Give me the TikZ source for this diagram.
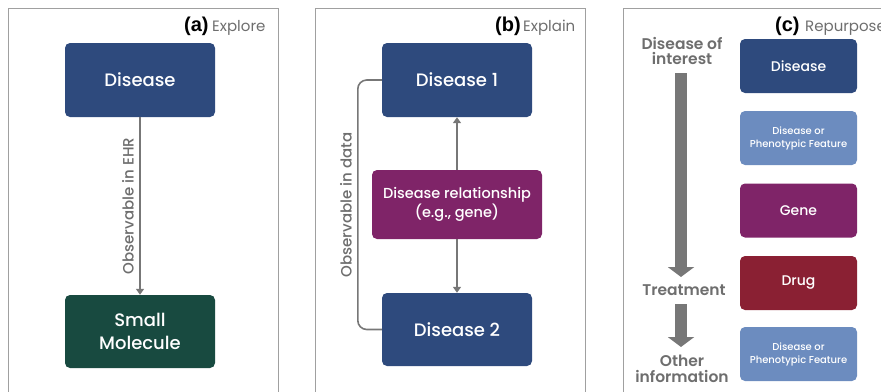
\documentclass[tikz,border=0pt]{standalone}
\usepackage{fontspec}
\setmainfont{Poppins}[UprightFont={* Medium}, BoldFont={* SemiBold}]
\newfontfamily\regfont{Poppins}
\newfontfamily\arialf{Liberation Sans}
\usetikzlibrary{arrows.meta}
\definecolor{dblue}{HTML}{2E4A7D}
\definecolor{dgreen}{HTML}{184A40}
\definecolor{purp}{HTML}{7F2468}
\definecolor{drugred}{HTML}{8A2033}
\definecolor{lblue}{HTML}{6C8CBF}
\definecolor{arrowgray}{HTML}{777777}
\definecolor{framegray}{HTML}{A0A0A0}
\definecolor{textgray}{HTML}{6E6E6E}
\tikzset{
  box/.style={rounded corners=5pt, text=white, align=center, inner sep=2pt},
  bigbox/.style={box, minimum width=150pt, minimum height=74pt, font=\fontsize{18}{23}\selectfont},
  smallbox/.style={box, minimum width=117pt, minimum height=54pt},
  conn/.style={draw=arrowgray, line width=1.6pt, -{Triangle[length=6pt,width=8pt]}},
  frame/.style={draw=framegray, line width=0.8pt},
  paneltag/.style={inner sep=0pt, anchor=base west},
  sidelab/.style={text=textgray, font=\fontsize{15}{18}\selectfont, rotate=90, inner sep=1pt},
  leftlab/.style={text=textgray, align=center, inner sep=0pt, font=\bfseries\fontsize{15.5}{15.5}\selectfont},
  fat/.style={draw=arrowgray, line width=12pt, -{Triangle[length=10pt,width=26pt]}}
}
\begin{document}
\begin{tikzpicture}[x=1pt,y=-1pt]
\useasboundingbox (0,0) rectangle (881,391);
% frames
\draw[frame] (8,392) -- (8,8) -- (278,8) -- (278,392);
\draw[frame] (315,392) -- (315,8) -- (585,8) -- (585,392);
\draw[frame] (623,392) -- (623,8) -- (885,8);
% panel tags
\node[paneltag] (ta) at (184,31) {\arialf\bfseries\fontsize{20}{22}\selectfont (a)};
\node[paneltag, text=textgray] (tae) at (212,31) {\regfont\fontsize{15}{18}\selectfont Explore};
\node[paneltag] (tb) at (495,31) {\arialf\bfseries\fontsize{20}{22}\selectfont (b)};
\node[paneltag, text=textgray] (tbe) at (523,31) {\regfont\fontsize{15}{18}\selectfont Explain};
\node[paneltag] (tc) at (775,31) {\arialf\bfseries\fontsize{20}{22}\selectfont (c)};
\node[paneltag, text=textgray] (tce) at (805,31) {\regfont\fontsize{15}{18}\selectfont Repurpose};
% panel a
\node[bigbox, fill=dblue] (adis) at (140,80) {Disease};
\node[bigbox, fill=dgreen, minimum height=73pt] (asm) at (140,331.5) {Small\\Molecule};
\draw[conn] (adis.south) -- (asm.north);
\node[sidelab] (alab) at (128,206) {Observable in EHR};
% panel b
\node[bigbox, fill=dblue] (bd1) at (457,80) {Disease 1};
\node[box, fill=purp, minimum width=170pt, minimum height=69pt, font=\fontsize{14.5}{19}\selectfont] (brel) at (457,204.5) {Disease relationship\\(e.g., gene)};
\node[bigbox, fill=dblue, minimum height=73pt] (bd2) at (457,329.5) {Disease 2};
\draw[conn] (brel.north) -- (bd1.south);
\draw[conn] (brel.south) -- (bd2.north);
\draw[draw=arrowgray, line width=1.6pt, rounded corners=9pt] (bd1.west) -- ++(-24,0) |- (bd2.west);
\node[sidelab] (blab) at (346,205) {Observable in data};
% panel c boxes
\node[smallbox, fill=dblue, font=\fontsize{14}{17}\selectfont] (cdis) at (798.5,66) {Disease};
\node[smallbox, fill=lblue, font=\fontsize{10}{13}\selectfont] (cph1) at (798.5,138) {Disease or\\Phenotypic Feature};
\node[smallbox, fill=purp, font=\fontsize{14}{17}\selectfont] (cgene) at (798.5,210.5) {Gene};
\node[smallbox, fill=drugred, font=\fontsize{14}{17}\selectfont] (cdrug) at (798.5,283) {Drug};
\node[smallbox, fill=lblue, font=\fontsize{10}{13}\selectfont] (cph2) at (798.5,354) {Disease or\\Phenotypic Feature};
% left column
\node[leftlab] (doi) at (682,51) {Disease of\\interest};
\node[leftlab] (treat) at (684,290) {Treatment};
\node[leftlab] (other) at (682,369) {Other\\information};
\draw[fat] (681,73) -- (681,277);
\draw[fat] (681,304) -- (681,347);
\end{tikzpicture}
\end{document}
